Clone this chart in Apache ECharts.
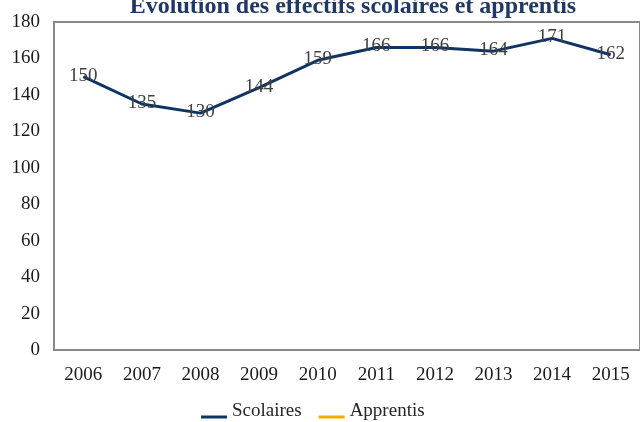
<!DOCTYPE html>
<html>
<head>
<meta charset="utf-8">
<script src="https://cdn.jsdelivr.net/npm/echarts@6/dist/echarts.min.js"></script>
<style>
html,body{margin:0;padding:0;background:#fff;}
#chart{width:640px;height:422px;}
</style>
</head>
<body>
<div id="chart"></div>
<script>
var titleText = 'Évolution des effectifs scolaires et apprentis';
var years = ['2006','2007','2008','2009','2010','2011','2012','2013','2014','2015'];
var scolaires = [150,135,130,144,159,166,166,164,171,162];
var apprentis = [];
var yTicks = {min:0, max:180, interval:20};

var FONT = '"Liberation Serif", "DejaVu Serif", serif';
var chart = echarts.init(document.getElementById('chart'), null, {renderer:'canvas'});
var legendIcon = 'path://M0,0L100,0L100,0.01Z M0,44L100,44L100,56L0,56Z';
chart.setOption({
  animation:false,
  backgroundColor:'#ffffff',
  title:{
    text:titleText,
    left:348, textAlign:'center', top:-10,
    textStyle:{fontFamily:FONT, fontSize:24, fontWeight:'bold', color:'#1F3864'}
  },
  legend:{
    bottom:-4, left:196,
    itemWidth:26, itemHeight:14, itemGap:17,
    symbolKeepAspect:false,
    textStyle:{fontFamily:FONT, fontSize:19, color:'#262626'},
    data:[
      {name:'Scolaires', icon:legendIcon, itemStyle:{color:'#0F3463'}},
      {name:'Apprentis', icon:legendIcon, itemStyle:{color:'#F2A900'}}
    ]
  },
  grid:{
    left:54, top:22, width:590, height:328,
    show:true, borderColor:'#898989', borderWidth:2, backgroundColor:'transparent'
  },
  xAxis:{
    type:'category', data:years, boundaryGap:true,
    axisLine:{show:false}, axisTick:{show:false},
    axisLabel:{fontFamily:FONT, fontSize:19, color:'#1a1a1a', margin:16}
  },
  yAxis:{
    type:'value', min:yTicks.min, max:yTicks.max, interval:yTicks.interval,
    axisLine:{show:false}, axisTick:{show:false}, splitLine:{show:false},
    axisLabel:{fontFamily:FONT, fontSize:19, color:'#1a1a1a', margin:14}
  },
  series:[
    {
      name:'Scolaires', type:'line', data:scolaires,
      symbol:'circle', symbolSize:2,
      itemStyle:{color:'rgba(0,0,0,0)'},
      lineStyle:{color:'#0F3463', width:3},
      label:{show:true, position:'inside', offset:[0,-1], fontFamily:FONT, fontSize:19, color:'#404040'}
    },
    {
      name:'Apprentis', type:'line', data:apprentis,
      lineStyle:{color:'#F2A900', width:3},
      itemStyle:{color:'#F2A900'}
    }
  ]
});
</script>
</body>
</html>
